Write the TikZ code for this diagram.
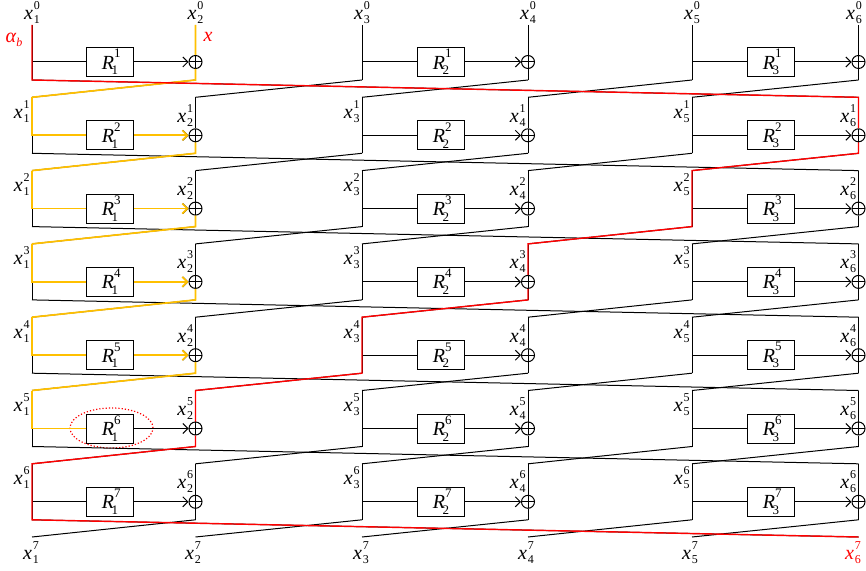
\documentclass[tikz,border=0pt]{standalone}
\usepackage{fontspec}
\setmainfont{Liberation Serif}
\usetikzlibrary{arrows.meta,shapes.geometric}

\definecolor{trailred}{RGB}{255,0,0}
\definecolor{trailgold}{RGB}{255,192,0}

% branch value x_j^i and round function R_k^i
\newcommand{\xs}[2]{\textit{x}\kern0.4pt\rlap{\raisebox{5pt}{\fontsize{6}{7}\selectfont #2}}\raisebox{-2pt}{\fontsize{6}{7}\selectfont #1}}
\newcommand{\Rf}[2]{\textit{R}\rlap{\raisebox{5.6pt}{\fontsize{6.5}{7}\selectfont #2}}\kern-1.2pt\raisebox{-2.8pt}{\fontsize{6.5}{7}\selectfont #1}}

\begin{document}
\begin{tikzpicture}[x=0.5pt,y=-0.5pt,font=\fontsize{10}{12}\selectfont,
    wire/.style={line width=0.5pt},
    feed/.style={wire,-{Straight Barb[length=2.5pt,width=5pt]}},
    redtrail/.style={draw=trailred,line width=0.7pt},
    goldtrail/.style={draw=trailgold,line width=0.85pt},
    goldfeed/.style={goldtrail,-{Straight Barb[length=2.5pt,width=5pt]}},
    rbox/.style={rectangle,draw,line width=0.5pt,minimum width=23.5pt,minimum height=14.5pt,inner sep=0pt},
    xorop/.style={circle,draw,line width=0.5pt,minimum size=6.5pt,inner sep=0pt,
        path picture={\draw[line width=0.5pt] (path picture bounding box.north) -- (path picture bounding box.south)
            (path picture bounding box.west) -- (path picture bounding box.east);}},
    hilite/.style={ellipse,draw=trailred,densely dotted,line width=0.6pt,minimum width=41.5pt,minimum height=20pt},
    lab/.style={inner sep=1pt}]
    \useasboundingbox (0,0) rectangle (866,571);

    % branch points: top, middle, bottom of every round
    \foreach \j/\xb in {1/32,2/195.5,3/362,4/528,5/692,6/858.5}{
        \foreach \i in {1,...,7}{
            \pgfmathsetmacro\ym{62+73.3*(\i-1)}
            \pgfmathsetmacro\yt{\i==1 ? 25 : \ym-38}
            \coordinate (t\i\j) at (\xb,\yt);
            \coordinate (m\i\j) at (\xb,\ym);
            \coordinate (d\i\j) at (\xb,\ym+18);
        }
        \coordinate (t8\j) at (\xb,537); % outputs
    }

    % nodes
    \foreach \i in {1,...,7}{
        \pgfmathsetmacro\ym{62+73.3*(\i-1)}
        \foreach \k/\a/\b/\xr in {1/1/2/110,2/3/4/441,3/5/6/771}{
            \node[xorop] (x\i\b) at (m\i\b) {};
            \node[rbox] (r\i\k) at (\xr,\ym) {\Rf{\k}{\i}};
        }
    }
    \node[hilite] (mark) at (111.5,428) {}; % R_1^6

    % labels
    \foreach \j/\xb in {1/32,2/195.5,3/362,4/528,5/692,6/854}
        \node[lab] (in\j) at (\xb,13) {\xs{\j}{0}};
    \foreach \i [evaluate=\i as \p using int(\i-1)] in {2,...,7}{
        \foreach \j in {1,3,5}
            \node[lab,anchor=east,yshift=-7pt] (l\i\j) at (t\i\j) {\xs{\j}{\p}};
        \foreach \j in {2,4,6}
            \node[lab,anchor=east,yshift=-9pt] (l\i\j) at (t\i\j) {\xs{\j}{\p}};
    }
    \foreach \j/\xb in {1/31,2/193,3/361,4/526,5/690}
        \node[lab] (out\j) at (\xb,553) {\xs{\j}{7}};
    \node[lab,text=trailred] (out6) at (853,553) {\xs{6}{7}};
    \node[lab,text=trailred] (alpha) at (14,40) {\textit{α}\raisebox{-1.7pt}{\fontsize{6}{7}\selectfont\textit{b}}};
    \node[lab,text=trailred] (xin) at (208,37) {\textit{x}};

    % paths
    \foreach \i [evaluate=\i as \n using int(\i+1)] in {1,...,7}{
        \foreach \k/\a/\b in {1/1/2,2/3/4,3/5/6}{
            \draw[wire] (t\i\a) -- (d\i\a); % odd branch
            \draw[wire] (t\i\b) -- (x\i\b.north) (x\i\b.south) -- (d\i\b); % even branch
            \draw[wire] (m\i\a) -- (r\i\k.west);
            \draw[feed] (r\i\k.east) -- (x\i\b.west);
        }
        \foreach \j/\q in {2/1,3/2,4/3,5/4,6/5,1/6}
            \draw[wire] (d\i\j) -- (t\n\q); % shift
    }

    % x trail
    \draw[goldtrail] (t12) -- (x12.north) (x12.south) -- (d12) -- (t21);
    \foreach \i [evaluate=\i as \n using int(\i+1)] in {2,...,5}{
        \draw[goldtrail] (t\i1) -- (m\i1) -- (r\i1.west);
        \draw[goldfeed] (r\i1.east) -- (x\i2.west);
        \draw[goldtrail] (x\i2.south) -- (d\i2) -- (t\n1);
    }
    \draw[goldtrail] (t61) -- (m61) -- (r61.west);

    % alpha_b trail
    \draw[redtrail] (t11) -- (d11) -- (t26) -- (x26.north) (x26.south) -- (d26) -- (t35) -- (d35)
        -- (t44) -- (x44.north) (x44.south) -- (d44) -- (t53) -- (d53)
        -- (t62) -- (x62.north) (x62.south) -- (d62) -- (t71) -- (d71) -- (t86);
\end{tikzpicture}
\end{document}
